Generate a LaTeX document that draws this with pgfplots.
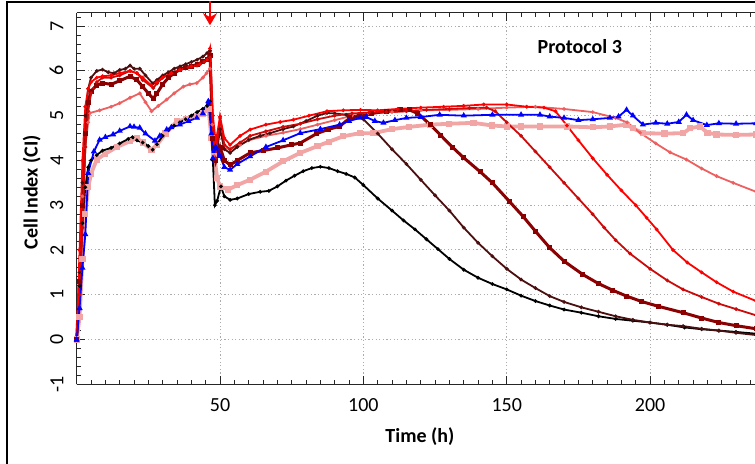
\documentclass[border=0pt]{standalone}
\usepackage{fontspec}
\setmainfont{Carlito}
\usepackage{pgfplots}
\pgfplotsset{compat=1.18}
\usetikzlibrary{arrows.meta}

\definecolor{cA}{RGB}{0,0,0}
\definecolor{cB}{RGB}{75,15,15}
\definecolor{cC}{RGB}{139,0,0}
\definecolor{cD}{RGB}{205,10,10}
\definecolor{cE}{RGB}{255,0,0}
\definecolor{cF}{RGB}{238,95,95}
\definecolor{cG}{RGB}{0,0,255}
\definecolor{cH}{RGB}{242,165,165}

\begin{document}
\begin{tikzpicture}
\useasboundingbox (0,0) rectangle (377.5pt,231.5pt);
\draw[line width=1pt] (3.65pt,-20pt) rectangle (420pt,230.5pt);
\begin{axis}[
  at={(38.35pt,39.35pt)}, anchor=south west,
  scale only axis, width=339.15pt, height=185.8pt,
  xmin=0, xmax=236.6, ymin=-1, ymax=7.3,
  axis x line*=box, axis y line*=left,
  clip=false,
  axis line style={black!85, line width=0.7pt},
  xtick={50,100,150,200},
  ytick={-1,0,1,2,3,4,5,6,7},
  minor xtick={0,5,...,235},
  minor ytick={-0.8,-0.6,...,7.2},
  major tick length=4pt, minor tick length=2pt,
  tick style={black!85, line width=0.5pt},
  grid=major,
  major grid style={gray!65, dash pattern=on 0.6pt off 1.2pt, line width=0.5pt},
  /pgf/number format/assume math mode=true,
  ticklabel style={font=\normalsize},
  yticklabel style={rotate=90, anchor=south, inner sep=6.5pt},
  xticklabel style={inner sep=7pt},
  xlabel={\bfseries Time (h)},
  ylabel={\bfseries Cell Index (CI)},
  xlabel style={at={(axis description cs:0.506,-0.141)}, anchor=center},
  ylabel style={at={(axis description cs:-0.0663,0.517)}, anchor=center},
  every axis plot/.append style={mark size=0.4pt},
]
% H light pink
\addplot[color=cH, line width=1.9pt, mark=square*, mark size=0.6pt] coordinates {
(0,0) (1,0.5) (2,1.8) (3,2.8) (4,3.4) (5,3.7) (7,4.02) (10,4.15) (14,4.3) (18.6,4.43) (21,4.5) (23,4.4) (26.1,4.24) (28,4.35) (31,4.6) (34.9,4.87) (38,4.92) (41.9,4.98) (44,5.05) (46,5.15) (47,4.5) (48,4.1) (49,3.6) (50,3.42) (52.9,3.35) (56,3.45) (60.5,3.57) (66,3.75) (72,3.98) (78,4.17) (84,4.32) (88,4.42) (93,4.54) (98.8,4.61) (103.5,4.61) (110,4.7) (116,4.75) (123.3,4.8) (130,4.82) (138.4,4.84) (145,4.78) (150,4.76) (155,4.76) (161.6,4.76) (170.9,4.76) (180,4.74) (186,4.76) (191.8,4.8) (194,4.72) (197.5,4.61) (205,4.6) (211.6,4.61) (214,4.72) (217.4,4.76) (220,4.62) (223.2,4.58) (230,4.57) (237,4.58)};
% F salmon
\addplot[color=cF, line width=0.9pt, mark=*] coordinates {
(0,0) (1,1.5) (2,3.2) (3,4.3) (4,4.85) (4.6,5.06) (8,5.12) (12,5.2) (15,5.28) (18.6,5.4) (22,5.5) (24,5.3) (26.1,5.1) (28.5,5.22) (31.4,5.36) (34,5.5) (37.2,5.65) (39.5,5.7) (41.9,5.73) (44,5.85) (45.3,5.95) (46.5,6.05) (47.3,4.8) (48,4.1) (50,4.3) (53.5,4.25) (57,4.35) (60,4.45) (66,4.55) (72,4.62) (78,4.7) (84,4.8) (90,4.9) (96,5.0) (102,5.05) (110,5.08) (120,5.12) (130,5.13) (140,5.15) (150,5.18) (160,5.2) (170,5.15) (180,5.08) (188,4.95) (192,4.85) (196.5,4.62) (202,4.38) (207,4.18) (212.7,4.02) (218,3.82) (223.2,3.65) (229,3.5) (237,3.3)};
% A black
\addplot[color=cA, line width=0.9pt, mark=*] coordinates {
(0,0) (1,1.2) (2,2.6) (3,3.4) (4,3.85) (5,4.0) (7,4.12) (9,4.22) (12,4.28) (15,4.38) (18,4.48) (19.5,4.52) (21,4.45) (23,4.4) (25,4.32) (26.5,4.24) (28,4.36) (30,4.55) (32,4.68) (34,4.78) (36,4.85) (38,4.92) (40,5.0) (42,5.08) (44,5.15) (45.5,5.22) (46.5,5.32) (47.5,4.0) (48.2,3.0) (49,3.1) (50.3,3.42) (51.5,3.2) (53.5,3.12) (56,3.15) (60,3.25) (64,3.3) (67,3.32) (70,3.42) (73,3.55) (76,3.66) (79,3.76) (82,3.83) (85,3.86) (88,3.83) (91,3.76) (94,3.7) (97,3.62) (100,3.45) (105,3.15) (110,2.88) (114,2.66) (118,2.46) (122,2.24) (126,2.02) (130,1.8) (135,1.56) (140,1.38) (145,1.24) (150,1.12) (155,0.98) (160,0.86) (165,0.76) (170,0.67) (176,0.6) (182,0.52) (188,0.46) (194,0.42) (200,0.38) (206,0.33) (212,0.27) (218,0.23) (224,0.2) (230,0.17) (237,0.13)};
% B dark brown
\addplot[color=cB, line width=0.9pt, mark=*] coordinates {
(0,0) (1,1.5) (2,3.5) (3,5.0) (4,5.6) (5,5.85) (7,6.0) (9,6.03) (11,5.97) (13,5.95) (15,6.02) (17,6.05) (18.6,6.12) (20,6.05) (22,6.05) (24,5.9) (26.5,5.72) (28,5.8) (30,5.9) (32,5.97) (34,6.05) (36,6.1) (38,6.15) (40,6.2) (42,6.25) (44,6.32) (45.5,6.4) (46.5,6.45) (47.5,4.3) (48.5,4.0) (50,4.7) (51.5,4.25) (53.5,4.17) (56,4.3) (60,4.46) (64,4.55) (67.4,4.61) (72,4.7) (75.6,4.76) (80,4.88) (84,5.0) (87.3,5.06) (90,5.05) (94,5.02) (98,4.98) (100,4.92) (105,4.6) (110,4.25) (115,3.92) (120,3.57) (125,3.22) (130,2.88) (135,2.5) (140,2.16) (145,1.86) (150,1.58) (155,1.34) (160,1.15) (165,0.97) (170,0.84) (176,0.72) (182,0.62) (188,0.52) (194,0.44) (200,0.38) (206,0.33) (211.5,0.3) (218,0.24) (224,0.2) (230,0.15) (237,0.1)};
% C dark red
\addplot[color=cC, line width=1.5pt, mark=square*, mark size=0.5pt] coordinates {
(0,0) (1,1.3) (2,3.0) (3,4.6) (4,5.3) (5,5.55) (7,5.68) (9,5.73) (12,5.7) (15,5.78) (18.6,5.88) (21,5.8) (23,5.65) (25,5.5) (26.7,5.38) (28,5.5) (30,5.7) (32,5.85) (34,5.95) (36,6.03) (38,6.08) (40,6.1) (42,6.15) (44,6.2) (45.5,6.25) (46.5,6.35) (47.5,4.5) (48.5,4.0) (50,4.3) (51.5,4.0) (53.5,3.9) (56,4.0) (60.5,4.17) (65,4.22) (70,4.28) (75,4.35) (78,4.39) (83.7,4.6) (88,4.7) (91.7,4.76) (95.3,4.95) (98.8,4.98) (103,5.05) (108,5.1) (112.8,5.13) (116,5.13) (119,5.05) (123.3,4.8) (127,4.56) (131,4.3) (135,4.06) (140.7,3.75) (145,3.5) (151,3.08) (155.7,2.75) (160,2.42) (165,2.05) (170,1.75) (176.6,1.45) (182,1.25) (187,1.1) (191.8,0.97) (197,0.85) (203,0.74) (211.5,0.6) (218,0.48) (224,0.38) (230,0.31) (237,0.24)};
% D red
\addplot[color=cD, line width=0.9pt, mark=*] coordinates {
(0,0) (1,1.0) (2,2.5) (3,4.3) (4,5.1) (5,5.5) (7,5.75) (9,5.85) (12,5.85) (15,5.9) (18.6,6.0) (21,5.95) (23,5.8) (26.7,5.62) (28,5.72) (30,5.85) (33,5.95) (36,6.02) (39,6.08) (42,6.12) (44.5,6.2) (46.5,6.3) (47.5,4.6) (48.5,4.05) (50,4.95) (51.5,4.35) (53.5,4.25) (57,4.4) (60.5,4.55) (66,4.65) (72,4.75) (78,4.82) (84,4.92) (90,5.0) (96,5.05) (102,5.07) (108,5.08) (115,5.1) (122,5.13) (130,5.15) (137,5.17) (143,5.18) (146,5.1) (150,4.85) (155,4.55) (160,4.2) (165,3.85) (170,3.5) (175,3.15) (180,2.8) (184,2.5) (188,2.22) (193,1.92) (200,1.58) (206,1.32) (211.5,1.12) (218,0.95) (224,0.8) (230,0.68) (237,0.54)};
% E bright red
\addplot[color=cE, line width=0.9pt, mark=*] coordinates {
(0,0) (1,2.0) (2,4.0) (3,5.2) (4,5.6) (5,5.75) (7,5.85) (9,5.88) (12,5.9) (15,5.95) (18.6,6.0) (21,5.95) (23,5.85) (26,5.68) (28,5.75) (30,5.85) (33,5.95) (36,6.02) (40,6.1) (43,6.15) (45.5,6.25) (46.5,6.5) (47.5,5.0) (48.5,4.4) (50,4.98) (51.5,4.5) (53.5,4.35) (57,4.55) (60.5,4.69) (66,4.8) (71,4.86) (75.6,4.91) (81,5.0) (87.3,5.1) (93,5.12) (99,5.13) (105,5.12) (112,5.15) (120,5.18) (128,5.2) (135,5.22) (142,5.25) (150,5.25) (157,5.2) (163,5.18) (167,5.1) (171,4.78) (175,4.45) (180,4.05) (185,3.68) (190,3.33) (195,3.0) (198.8,2.72) (202.3,2.46) (208,2.0) (213,1.72) (218,1.5) (223.2,1.28) (229,1.07) (237,0.86)};
% G blue
\addplot[color=cG, line width=0.9pt, mark=triangle*, mark size=0.9pt] coordinates {
(0,0) (1,0.7) (2,1.6) (3,2.35) (4,3.72) (6,4.2) (8,4.46) (10,4.52) (12.7,4.58) (15,4.66) (18.6,4.76) (20,4.75) (22,4.73) (24,4.6) (27.3,4.44) (29,4.55) (31.4,4.69) (33,4.74) (36,4.8) (39,4.88) (41.9,4.95) (44,5.05) (45.9,5.32) (47,4.6) (47.5,4.05) (48.5,4.3) (50,4.1) (51.5,3.85) (53.5,3.79) (56,3.92) (60.5,4.09) (66,4.3) (72,4.45) (78,4.61) (85,4.7) (91.7,4.8) (95,4.88) (98.8,4.95) (101,4.97) (104,4.88) (107,4.84) (111,4.9) (115,4.95) (120,4.97) (126.6,5.02) (135,5.0) (145,5.02) (155,5.02) (161.6,5.02) (165,4.98) (170,4.95) (175,4.9) (180,4.92) (186,4.95) (189,4.98) (191.8,5.13) (194,5.0) (197.5,4.8) (202,4.84) (206,4.82) (210,4.86) (212.7,5.02) (215,4.9) (219.8,4.79) (224,4.83) (230,4.82) (237,4.83)};
\node[font=\bfseries] at (axis cs:175.5,6.54) {Protocol 3};
\draw[cE, line width=1.3pt, -{Stealth[length=6pt,width=7pt]}] (axis cs:46.5,7.56) -- (axis cs:46.5,7.02);
\end{axis}
\end{tikzpicture}
\end{document}
